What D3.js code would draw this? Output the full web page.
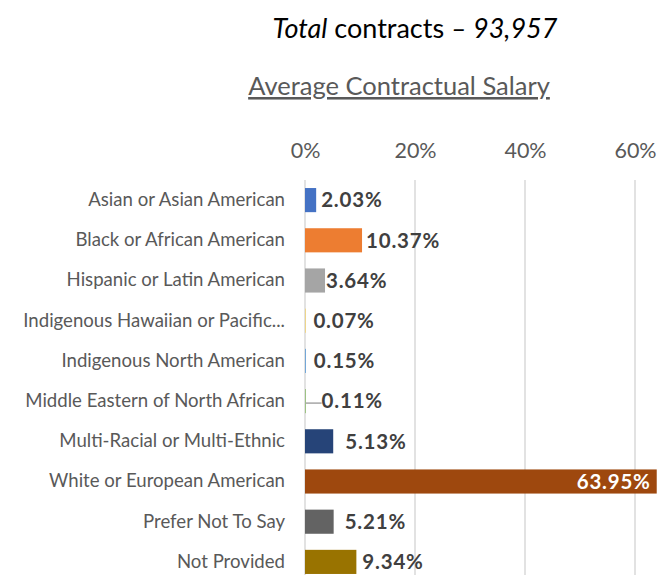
<!DOCTYPE html>
<html>
<head>
<meta charset="utf-8">
<script src="https://cdn.jsdelivr.net/npm/d3@7"></script>
<style>
  html, body { margin: 0; padding: 0; background: #fff; overflow: hidden; }
  svg { display: block; font-family: Lato, "Open Sans", sans-serif; }
</style>
</head>
<body>
<div id="chart"></div>
<script>
// chart data
const categories = [
    "Asian or Asian American",
    "Black or African American",
    "Hispanic or Latin American",
    "Indigenous Hawaiian or Pacific...",
    "Indigenous North American",
    "Middle Eastern of North African",
    "Multi-Racial or Multi-Ethnic",
    "White or European American",
    "Prefer Not To Say",
    "Not Provided"
];
const shares = [2.03, 10.37, 3.64, 0.07, 0.15, 0.11, 5.13, 63.95, 5.21, 9.34];
const barColors = ["#4472C4", "#ED7D31", "#A5A5A5", "#FFC000", "#5B9BD5", "#70AD47",
    "#264478", "#9E480E", "#636363", "#997300"];
const xTicks = [0, 20, 40, 60];

// labels were nudged by hand in the original, keep that here (px from bar end)
const labelNudge = [5, 4, 1, 8, 8, 16, 12, 0, 11, 6];

const width = 657, height = 575;

const svg = d3.select("#chart")
    .append("svg")
    .attr("width", width)
    .attr("height", height);

const x = d3.scaleLinear()
    .domain([0, 60])
    .range([305, 635]);

const y = d3.scaleBand()
    .domain(categories)
    .range([180, 582])
    .paddingInner(0.4)
    .paddingOuter(0.2);

// titles
const title = svg.append("text")
    .attr("x", 415)
    .attr("y", 38)
    .attr("text-anchor", "middle")
    .style("font-size", "27px")
    .style("fill", "#000");
title.append("tspan").style("font-style", "italic").text("Total");
title.append("tspan").text(" contracts ");
title.append("tspan").style("font-style", "italic").text("\u2013 93,957");

svg.append("text")
    .attr("x", 399)
    .attr("y", 95)
    .attr("text-anchor", "middle")
    .style("font-size", "25.5px")
    .style("fill", "#595959")
    .style("text-decoration", "underline")
    .text("Average Contractual Salary");

// gridlines
svg.append("g")
    .attr("class", "grid")
    .selectAll("line")
    .data(xTicks)
    .enter()
    .append("line")
    .attr("x1", d => x(d))
    .attr("x2", d => x(d))
    .attr("y1", 180)
    .attr("y2", height)
    .style("stroke", "#d9d9d9")
    .style("stroke-width", 1.5);

// top axis
const xAxis = svg.append("g")
    .attr("transform", "translate(0,158)")
    .call(d3.axisTop(x).tickValues(xTicks).tickFormat(d => d + "%").tickSize(0).tickPadding(0));
xAxis.select(".domain").remove();
xAxis.selectAll("text")
    .style("font-family", "Lato, sans-serif")
    .style("font-size", "21.5px")
    .style("fill", "#595959")
    .attr("dy", "0");

// category axis
const yAxis = svg.append("g")
    .attr("transform", "translate(285,0)")
    .call(d3.axisLeft(y).tickSize(0).tickPadding(0));
yAxis.select(".domain").remove();
yAxis.selectAll("text")
    .style("font-family", "Lato, sans-serif")
    .style("font-size", "18.6px")
    .style("fill", "#595959");

// bars
const rows = categories.map((c, i) => ({ name: c, value: shares[i], color: barColors[i], nudge: labelNudge[i] }));

svg.selectAll(".bar")
    .data(rows)
    .enter()
    .append("rect")
    .attr("class", "bar")
    .attr("x", x(0))
    .attr("y", d => y(d.name))
    .attr("width", d => x(d.value) - x(0))
    .attr("height", y.bandwidth())
    .attr("fill", d => d.color);

// leader line for the tiny Middle Eastern label
const me = rows[5];
svg.append("line")
    .attr("x1", x(me.value))
    .attr("x2", x(me.value) + me.nudge)
    .attr("y1", y(me.name) + y.bandwidth() / 2 + 2)
    .attr("y2", y(me.name) + y.bandwidth() / 2 + 2)
    .style("stroke", "#a6a6a6")
    .style("stroke-width", 1.5);

// data labels
svg.selectAll(".label")
    .data(rows)
    .enter()
    .append("text")
    .attr("class", "label")
    .attr("x", d => d.value > 50 ? x(d.value) - 6 : x(d.value) + d.nudge)
    .attr("y", d => y(d.name) + y.bandwidth() / 2)
    .attr("dy", "0.36em")
    .attr("text-anchor", d => d.value > 50 ? "end" : "start")
    .style("font-size", "20.5px")
    .style("letter-spacing", "0.8px")
    .style("font-weight", "bold")
    .style("fill", d => d.value > 50 ? "#fff" : "#404040")
    .text(d => d.value.toFixed(2) + "%");
</script>
</body>
</html>
